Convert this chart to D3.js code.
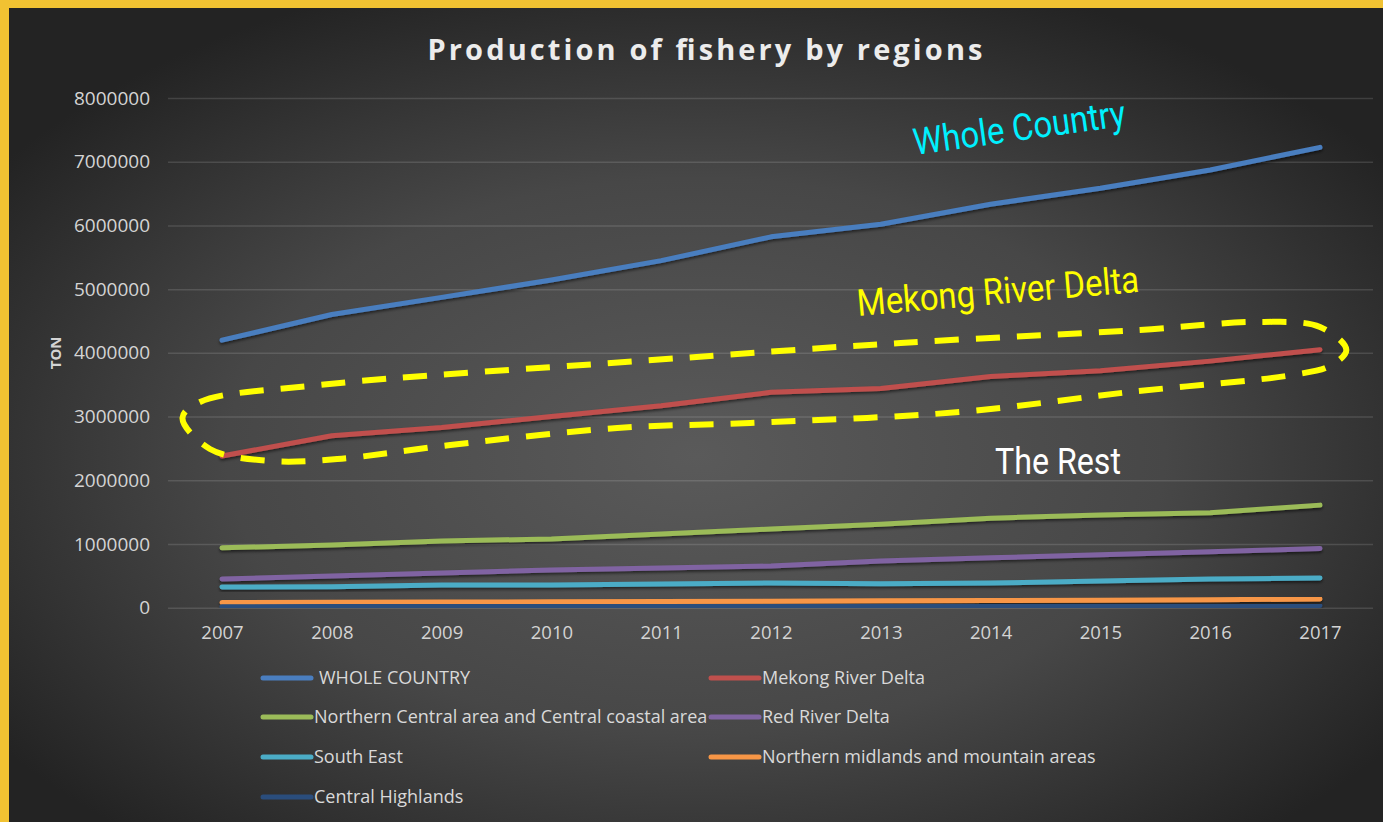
<!DOCTYPE html>
<html>
<head>
<meta charset="utf-8">
<script src="https://cdn.jsdelivr.net/npm/d3@7"></script>
<style>
  html, body { margin: 0; padding: 0; background: #f1c232; }
  svg { display: block; }
</style>
</head>
<body>
<svg id="chart" width="1383" height="822"></svg>
<script>
// ---------- DATA ----------
const years = [2007, 2008, 2009, 2010, 2011, 2012, 2013, 2014, 2015, 2016, 2017];
const seriesNames = [
  "WHOLE COUNTRY",
  "Mekong River Delta",
  "Northern Central area and Central coastal area",
  "Red River Delta",
  "South East",
  "Northern midlands and mountain areas",
  "Central Highlands"
];
const seriesColors = ["#4a7ebf", "#c0504d", "#9bbb59", "#8064a2", "#4bacc6", "#f79646", "#2a4d7c"];
const wholeCountry   = [4199100, 4602000, 4870300, 5142700, 5447400, 5820700, 6019700, 6333200, 6582100, 6870700, 7225000];
const mekong         = [2380000, 2700000, 2830000, 3000000, 3170000, 3380000, 3440000, 3630000, 3720000, 3870000, 4050000];
const northCentral   = [940000, 985000, 1045000, 1080000, 1155000, 1235000, 1310000, 1405000, 1455000, 1490000, 1610000];
const redRiver       = [450000, 497000, 545000, 592000, 623000, 655000, 733000, 783000, 830000, 877000, 930000];
const southEast      = [325000, 328000, 356000, 358000, 372000, 388000, 374000, 388000, 419000, 450000, 466000];
const northMidlands  = [80000, 85000, 88000, 92000, 97000, 103000, 108000, 113000, 118000, 126000, 135000];
const centralHighl   = [15000, 17000, 19000, 21000, 23000, 25000, 27000, 29000, 31000, 33000, 35000];
const seriesValues = [wholeCountry, mekong, northCentral, redRiver, southEast, northMidlands, centralHighl];
const yTicks = [0, 1000000, 2000000, 3000000, 4000000, 5000000, 6000000, 7000000, 8000000];
const titleText = "Production of fishery by regions";
const yAxisTitle = "TON";
// hand-drawn highlight around the Mekong series, in data units [year, value]
const highlightLoop = [
  [2006.64, 2979000], [2006.80, 3229000], [2007.89, 3496000], [2010.81, 3873000],
  [2013.18, 4155000], [2015.36, 4360000], [2016.45, 4486000], [2017.00, 4407000],
  [2017.24, 4046000], [2017.09, 3794000], [2016.75, 3653000], [2015.27, 3386000],
  [2013.72, 3072000], [2011.81, 2899000], [2010.60, 2821000], [2009.08, 2554000],
  [2008.05, 2334000], [2007.44, 2303000], [2006.89, 2491000]
];

// ---------- DRAW ----------
const svg = d3.select("#chart");
const W = 1383, H = 822;
const defs = svg.append("defs");

const grad = defs.append("radialGradient").attr("id", "bg")
  .attr("cx", "50%").attr("cy", "55%").attr("r", "62%");
grad.append("stop").attr("offset", "0%").attr("stop-color", "#5a5a5a");
grad.append("stop").attr("offset", "55%").attr("stop-color", "#474747");
grad.append("stop").attr("offset", "100%").attr("stop-color", "#232323");

const shadow = defs.append("filter").attr("id", "shadow")
  .attr("x", "-5%").attr("y", "-50%").attr("width", "110%").attr("height", "200%");
shadow.append("feDropShadow").attr("dx", 0).attr("dy", 2).attr("stdDeviation", 1.5)
  .attr("flood-color", "#000").attr("flood-opacity", 0.55);

// frame + background
svg.append("rect").attr("width", W).attr("height", H).attr("fill", "#f1c232");
svg.append("rect").attr("x", 9).attr("y", 8).attr("width", W - 9).attr("height", H - 8).attr("fill", "url(#bg)");

const x = d3.scaleLinear().domain([2007, 2017]).range([222, 1320]);
const y = d3.scaleLinear().domain([0, 8000000]).range([607.7, 98]);
const gridLeft = 168, gridRight = 1373;

// gridlines
const grid = svg.append("g").attr("transform", `translate(${gridLeft},0)`)
  .call(d3.axisLeft(y).tickValues(yTicks).tickSize(-(gridRight - gridLeft)).tickFormat(""));
grid.select(".domain").remove();
grid.selectAll("line").attr("stroke", "rgba(255,255,255,0.13)").attr("stroke-width", 1.5);

// y axis labels
const yAxis = svg.append("g").attr("transform", "translate(150,0)")
  .call(d3.axisLeft(y).tickValues(yTicks).tickSize(0).tickPadding(0).tickFormat(d3.format("d")));
yAxis.select(".domain").remove();
yAxis.selectAll("text").attr("fill", "#d4d4d4").style("font-family", "'Open Sans', sans-serif")
  .style("font-size", "19px");

// x axis labels
const xAxis = svg.append("g").attr("transform", `translate(0,${y(0)})`)
  .call(d3.axisBottom(x).tickValues(years).tickSize(0).tickPadding(18).tickFormat(d3.format("d")));
xAxis.select(".domain").remove();
xAxis.selectAll("text").attr("fill", "#d4d4d4").style("font-family", "'Open Sans', sans-serif")
  .style("font-size", "18.5px");

// y axis title
svg.append("text").attr("transform", `translate(61,${y(4000000)}) rotate(-90)`)
  .attr("text-anchor", "middle").attr("fill", "#d4d4d4")
  .style("font-family", "'Open Sans', sans-serif").style("font-weight", "bold").style("font-size", "15px")
  .text(yAxisTitle);

// title
svg.append("text").attr("x", 705).attr("y", 60).attr("text-anchor", "middle")
  .attr("fill", "#ececec").style("font-family", "'Open Sans', sans-serif")
  .style("font-weight", "bold").style("font-size", "29px")
  .attr("textLength", 555).attr("lengthAdjust", "spacing")
  .text(titleText);

// lines
const line = d3.line().x((d, i) => x(years[i])).y(d => y(d));
svg.append("g").selectAll("path").data(seriesValues).join("path")
  .attr("d", line)
  .attr("fill", "none")
  .attr("stroke", (d, i) => seriesColors[i])
  .attr("stroke-width", 5)
  .attr("stroke-linecap", "round")
  .attr("stroke-linejoin", "round")
  .attr("filter", "url(#shadow)");

// highlight loop
svg.append("path")
  .attr("d", d3.line().x(d => x(d[0])).y(d => y(d[1])).curve(d3.curveCatmullRomClosed.alpha(0.5))(highlightLoop))
  .attr("fill", "none").attr("stroke", "#ffff00").attr("stroke-width", 6)
  .attr("stroke-dasharray", "24 17");

// annotations
function annot(txt, px, py, angle, len, color, size) {
  svg.append("text").attr("transform", `translate(${px},${py}) rotate(${angle})`)
    .attr("fill", color).style("font-family", "Roboto, sans-serif").style("font-size", size + "px")
    .attr("textLength", len).attr("lengthAdjust", "spacingAndGlyphs").text(txt);
}
annot("Whole Country", 915, 155, -7.9, 214, "#00f0ff", 37);
annot("Mekong River Delta", 858, 316, -4.9, 283, "#ffff00", 37);
annot("The Rest", 995, 474, 0, 126, "#ffffff", 36);

// legend
const legendPos = [
  [263, 678, 319], [711, 678, 762],
  [263, 717, 314], [711, 717, 762],
  [263, 757, 314], [711, 757, 762],
  [263, 797, 314]
];
const lg = svg.append("g");
seriesNames.forEach((name, i) => {
  const [sx, sy, tx] = legendPos[i];
  lg.append("line").attr("x1", sx).attr("x2", sx + 48).attr("y1", sy).attr("y2", sy)
    .attr("stroke", seriesColors[i]).attr("stroke-width", 5).attr("stroke-linecap", "round");
  lg.append("text").attr("x", tx).attr("y", sy + 6).attr("fill", "#d9d9d9")
    .style("font-family", "'Open Sans', sans-serif").style("font-size", "18px").text(name);
});
</script>
</body>
</html>
